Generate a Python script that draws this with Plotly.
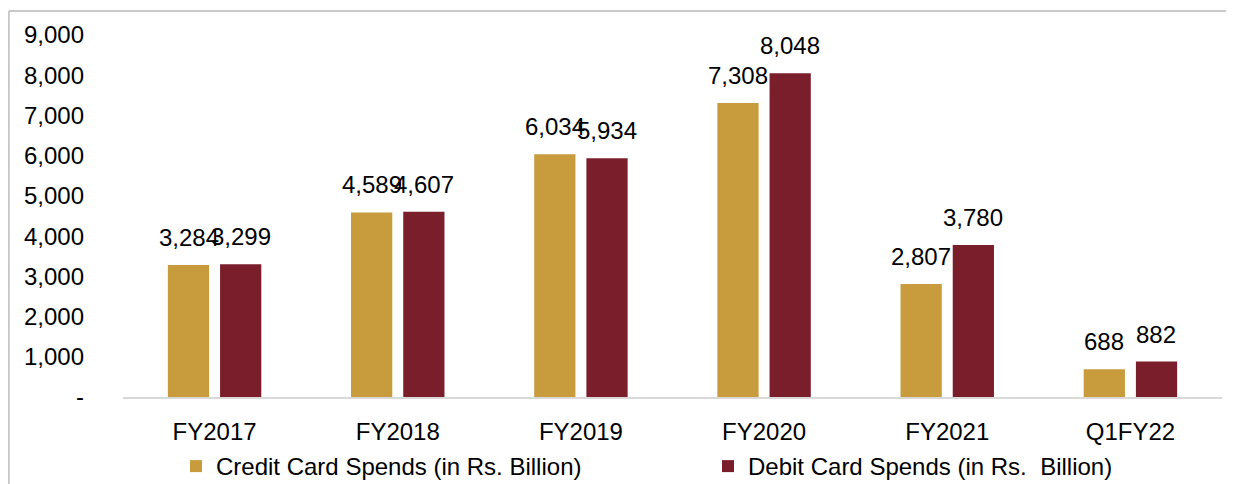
import plotly.graph_objects as go

categories = ["FY2017", "FY2018", "FY2019", "FY2020", "FY2021", "Q1FY22"]
credit = [3284, 4589, 6034, 7308, 2807, 688]
debit = [3299, 4607, 5934, 8048, 3780, 882]
credit_name = "Credit Card Spends (in Rs. Billion)"
debit_name = "Debit Card Spends (in Rs.  Billion)"
ytick_vals = [0, 1000, 2000, 3000, 4000, 5000, 6000, 7000, 8000, 9000]
ytick_text = ["-", "1,000", "2,000", "3,000", "4,000", "5,000", "6,000", "7,000", "8,000", "9,000"]

CREDIT_C = "#C89B3C"
DEBIT_C = "#7B1E2B"
FONT = "Liberation Sans, Arial, sans-serif"
FS = 24

# page has an 8px body margin; work in figure pixels = screen pixels - 8
OFF = 8
W, H = 1234 - OFF, 484 - OFF
L, R, T, B = 123 - OFF, W - (1222 - OFF), 35 - OFF, H - (397 - OFF)
pw, ph = W - L - R, H - T - B

fig = go.Figure()
fig.add_trace(go.Bar(x=categories, y=credit, name=credit_name, marker_color=CREDIT_C,
                     marker_line_width=0, legend="legend"))
fig.add_trace(go.Bar(x=categories, y=debit, name=debit_name, marker_color=DEBIT_C,
                     marker_line_width=0, legend="legend2"))

annotations = []
for cat, c, d in zip(categories, credit, debit):
    for v, xs in ((c, -26), (d, 26)):
        annotations.append(dict(x=cat, y=v, xref="x", yref="y", text=f"{v:,}",
                                showarrow=False, xshift=xs, yshift=12, yanchor="bottom",
                                font=dict(family=FONT, size=FS, color="#000000")))

def px_x(p):
    # p: screen pixel
    return (p - OFF - L) / pw

def px_y(p):
    return (H - B - (p - OFF)) / ph

shapes = [
    dict(type="line", xref="paper", yref="paper", x0=px_x(8.8), x1=px_x(8.8), y0=px_y(11), y1=px_y(520),
         line=dict(color="#C8C8C8", width=2)),
    dict(type="line", xref="paper", yref="paper", x0=px_x(8.8), x1=px_x(1260), y0=px_y(11), y1=px_y(11),
         line=dict(color="#C8C8C8", width=2)),
]

leg_common = dict(orientation="h", yanchor="top", itemwidth=30, bgcolor="rgba(0,0,0,0)",
                  font=dict(family=FONT, size=FS, color="#000000"))

fig.update_layout(
    width=W, height=H,
    margin=dict(l=L, r=R, t=T, b=B, autoexpand=False),
    paper_bgcolor="white", plot_bgcolor="white",
    barmode="group", bargap=0.43, bargroupgap=0.21,
    font=dict(family=FONT, size=FS, color="#000000"),
    showlegend=True,
    legend=dict(x=px_x(176), xanchor="left", y=px_y(444), **leg_common),
    legend2=dict(x=px_x(708), xanchor="left", y=px_y(444), **leg_common),
    annotations=annotations,
    shapes=shapes,
)
fig.update_xaxes(showline=True, linecolor="#D9D9D9", linewidth=2, showgrid=False, ticks="",
                 ticklabelstandoff=12, tickfont=dict(family=FONT, size=FS, color="#000000"))
fig.update_yaxes(range=[0, 9000], tickvals=ytick_vals, ticktext=ytick_text, showgrid=False,
                 showline=False, zeroline=False, ticks="", ticklabelstandoff=38,
                 tickfont=dict(family=FONT, size=FS, color="#000000"))

fig.write_html("out.html")
